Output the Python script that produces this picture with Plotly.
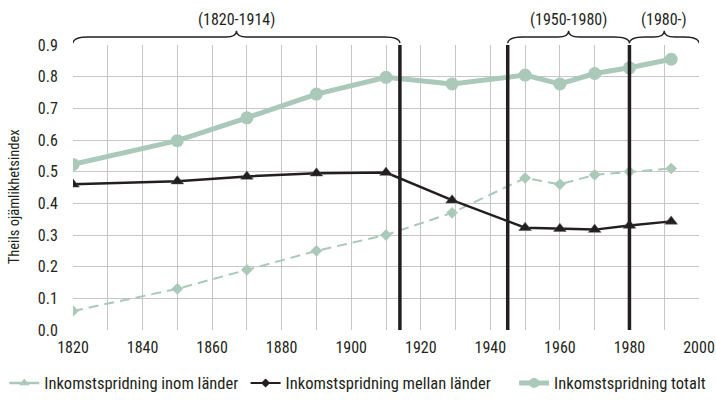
import plotly.graph_objects as go

years = [1820, 1850, 1870, 1890, 1910, 1929, 1950, 1960, 1970, 1980, 1992]
inom = [0.06, 0.13, 0.19, 0.25, 0.30, 0.37, 0.48, 0.46, 0.49, 0.50, 0.51]
mellan = [0.46, 0.47, 0.485, 0.495, 0.497, 0.41, 0.323, 0.32, 0.317, 0.33, 0.343]
totalt = [0.523, 0.598, 0.67, 0.745, 0.798, 0.777, 0.805, 0.777, 0.81, 0.828, 0.855]

names = ["Inkomstspridning inom länder", "Inkomstspridning mellan länder", "Inkomstspridning totalt"]
period_lines = [1914, 1945, 1980]
periods = [(1820, 1914, "(1820-1914)"), (1945, 1980, "(1950-1980)"), (1980, 2000, "(1980-)")]

GREEN = "#aac9b9"
BLACK = "#231f20"
FONT = "Roboto Condensed, Liberation Sans, sans-serif"

fig = go.Figure()
fig.add_trace(go.Scatter(x=years, y=inom, mode="lines+markers", showlegend=False,
                         line=dict(color=GREEN, width=2, dash="10px,6px"),
                         marker=dict(symbol="diamond", size=9, color=GREEN)))
fig.add_trace(go.Scatter(x=years, y=totalt, mode="lines+markers", showlegend=False,
                         line=dict(color=GREEN, width=5),
                         marker=dict(symbol="circle", size=13, color=GREEN)))
fig.add_trace(go.Scatter(x=years, y=mellan, mode="lines+markers", showlegend=False,
                         line=dict(color=BLACK, width=2.5),
                         marker=dict(symbol="triangle-up", size=11, color=BLACK,
                                     line=dict(color="#555555", width=0.5))))
# legend entries (as drawn in the original legend), one legend box each
fig.add_trace(go.Scatter(x=[None], y=[None], mode="lines+markers", name=names[0], legend="legend",
                         line=dict(color=GREEN, width=2.5),
                         marker=dict(symbol="triangle-up", size=9, color=GREEN)))
fig.add_trace(go.Scatter(x=[None], y=[None], mode="lines+markers", name=names[1], legend="legend2",
                         line=dict(color=BLACK, width=2),
                         marker=dict(symbol="diamond", size=7, color=BLACK)))
fig.add_trace(go.Scatter(x=[None], y=[None], mode="lines+markers", name=names[2], legend="legend3",
                         line=dict(color=GREEN, width=5),
                         marker=dict(symbol="circle", size=10, color=GREEN)))

shapes = []
for xv in period_lines:
    shapes.append(dict(type="line", xref="x", yref="y", x0=xv, x1=xv, y0=0, y1=0.9,
                       line=dict(color=BLACK, width=3.5), layer="above"))

y_end, y_line, y_peak = 1.006, 1.028, 1.05
annotations = []
for x0, x1, label in periods:
    xm = (x0 + x1) / 2
    d = 4.5
    dm = 3
    path = (f"M {x0},{y_end} Q {x0},{y_line} {x0 + d},{y_line} "
            f"L {xm - dm},{y_line} Q {xm},{y_line} {xm},{y_peak} "
            f"Q {xm},{y_line} {xm + dm},{y_line} "
            f"L {x1 - d},{y_line} Q {x1},{y_line} {x1},{y_end}")
    shapes.append(dict(type="path", xref="x", yref="paper", path=path,
                       line=dict(color=BLACK, width=1.3)))
    annotations.append(dict(x=xm, y=y_peak, xref="x", yref="paper", text=label,
                            showarrow=False, yanchor="bottom", yshift=0,
                            font=dict(family=FONT, size=16, color=BLACK)))

annotations.append(dict(x=-0.093, y=0.5, xref="paper", yref="paper", text="Theils ojämlikhetsindex",
                        textangle=-90, showarrow=False, xanchor="center", yanchor="middle",
                        yshift=-9, font=dict(family=FONT, size=14.5, color=BLACK)))

leg_common = dict(orientation="h", xref="container", yref="container", y=0.042,
                  xanchor="left", yanchor="middle", font=dict(size=16.5),
                  bgcolor="rgba(0,0,0,0)")

fig.update_layout(
    width=716, height=400,
    margin=dict(l=73, r=17, t=45, b=70, autoexpand=False),
    paper_bgcolor="white", plot_bgcolor="white",
    font=dict(family=FONT, size=16, color=BLACK),
    shapes=shapes, annotations=annotations,
    xaxis=dict(range=[1820, 2000], dtick=20, tick0=1820, showgrid=True,
               gridcolor="#c6c6c6", gridwidth=1, automargin=False,
               ticklabeloverflow="allow",
               minor=dict(dtick=10, showgrid=True, gridcolor="#c6c6c6", gridwidth=1),
               showline=False, zeroline=False, ticks="outside", ticklen=3,
               tickcolor="rgba(0,0,0,0)", tickfont=dict(size=16)),
    yaxis=dict(range=[0, 0.9], dtick=0.1, tickformat=".1f", showgrid=True,
               gridcolor="#c6c6c6", gridwidth=1, zeroline=False, showline=False,
               automargin=False, ticklabeloverflow="allow",
               ticks="outside", ticklen=11, tickcolor="rgba(0,0,0,0)",
               tickfont=dict(size=16)),
    legend=dict(x=0.006, **leg_common),
    legend2=dict(x=0.343, **leg_common),
    legend3=dict(x=0.718, **leg_common),
)
fig.write_html("out.html", config={"displayModeBar": False},
               post_script="document.body.style.margin='0';")
